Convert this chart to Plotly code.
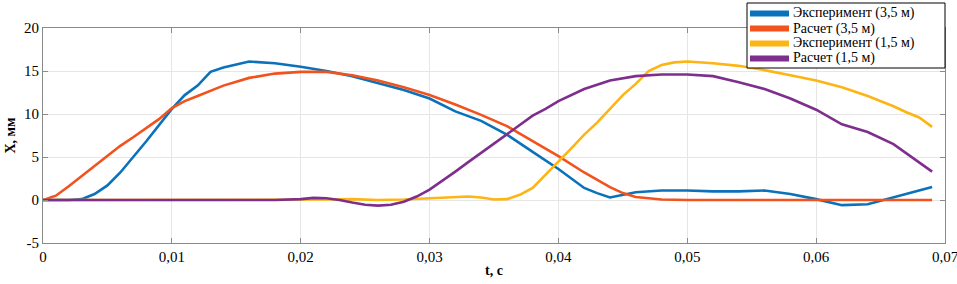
import plotly.graph_objects as go

# --- data ---
t_exp35 = [0, 0.002, 0.003, 0.004, 0.005, 0.006, 0.008, 0.010, 0.011, 0.012, 0.013, 0.014, 0.016, 0.018,
           0.020, 0.022, 0.024, 0.026, 0.028, 0.030, 0.032, 0.034, 0.036, 0.038, 0.040, 0.042, 0.043, 0.044,
           0.046, 0.048, 0.050, 0.052, 0.054, 0.056, 0.058, 0.060, 0.062, 0.064, 0.066, 0.068, 0.069]
x_exp35 = [0, 0, 0.1, 0.7, 1.7, 3.2, 6.8, 10.6, 12.2, 13.3, 14.9, 15.4, 16.1, 15.9,
           15.5, 15.0, 14.4, 13.6, 12.8, 11.8, 10.3, 9.2, 7.6, 5.6, 3.6, 1.4, 0.8, 0.3,
           0.9, 1.1, 1.1, 1.0, 1.0, 1.1, 0.7, 0.1, -0.6, -0.5, 0.3, 1.1, 1.5]

t_calc35 = [0, 0.001, 0.002, 0.003, 0.004, 0.005, 0.006, 0.007, 0.008, 0.009, 0.010, 0.011, 0.012, 0.013,
            0.014, 0.016, 0.018, 0.020, 0.022, 0.024, 0.026, 0.028, 0.030, 0.032, 0.034, 0.036, 0.038,
            0.040, 0.042, 0.044, 0.045, 0.046, 0.048, 0.050, 0.055, 0.060, 0.065, 0.069]
x_calc35 = [0, 0.5, 1.6, 2.8, 4.0, 5.1, 6.3, 7.3, 8.3, 9.4, 10.7, 11.5, 12.1, 12.7,
            13.3, 14.2, 14.7, 14.9, 14.9, 14.5, 13.9, 13.1, 12.2, 11.1, 9.9, 8.6, 6.9,
            5.1, 3.2, 1.5, 0.8, 0.35, 0.05, 0, 0, 0, 0, 0]

t_exp15 = [0, 0.010, 0.020, 0.022, 0.024, 0.026, 0.028, 0.030, 0.032, 0.033, 0.034, 0.035, 0.036, 0.037,
           0.038, 0.039, 0.040, 0.041, 0.042, 0.043, 0.044, 0.045, 0.046, 0.047, 0.048, 0.049, 0.050,
           0.052, 0.054, 0.056, 0.058, 0.060, 0.062, 0.064, 0.066, 0.067, 0.068, 0.069]
x_exp15 = [0, 0, 0, 0.05, 0.1, 0.0, 0.05, 0.2, 0.35, 0.4, 0.3, 0.05, 0.1, 0.6,
           1.4, 2.9, 4.5, 6.0, 7.6, 9.0, 10.6, 12.2, 13.5, 15.0, 15.7, 16.0, 16.1,
           15.9, 15.6, 15.1, 14.5, 13.9, 13.1, 12.1, 10.9, 10.2, 9.6, 8.5]

t_calc15 = [0, 0.010, 0.018, 0.020, 0.021, 0.022, 0.023, 0.024, 0.025, 0.026, 0.027, 0.028, 0.029, 0.030,
            0.031, 0.032, 0.033, 0.034, 0.035, 0.036, 0.037, 0.038, 0.039, 0.040, 0.042, 0.044, 0.046,
            0.048, 0.050, 0.052, 0.054, 0.056, 0.058, 0.060, 0.062, 0.064, 0.066, 0.067, 0.068, 0.069]
x_calc15 = [0, 0, 0, 0.1, 0.25, 0.2, 0.0, -0.3, -0.55, -0.65, -0.55, -0.2, 0.4, 1.2,
            2.2, 3.3, 4.4, 5.5, 6.6, 7.7, 8.8, 9.8, 10.6, 11.5, 12.9, 13.9, 14.4,
            14.6, 14.6, 14.4, 13.7, 12.9, 11.8, 10.5, 8.8, 7.9, 6.5, 5.4, 4.4, 3.3]

names = ["Эксперимент (3,5 м)", "Расчет (3,5 м)", "Эксперимент (1,5 м)", "Расчет (1,5 м)"]
x_tickvals = [0, 0.01, 0.02, 0.03, 0.04, 0.05, 0.06, 0.07]
x_ticktext = ["0", "0,01", "0,02", "0,03", "0,04", "0,05", "0,06", "0,07"]
y_tickvals = [-5, 0, 5, 10, 15, 20]
y_ticktext = ["-5", "0", "5", "10", "15", "20"]

colors = ["#0A72BA", "#F2521C", "#FDB515", "#7E2F8E"]
series = [(t_exp35, x_exp35), (t_calc35, x_calc35), (t_exp15, x_exp15), (t_calc15, x_calc15)]

font_family = "Liberation Serif"

W, H = 957, 284
L, R, T, B = 43, 12, 28, 41
PW, PH = W - L - R, H - T - B


def px_x(px):
    return (px - L) / PW


def px_y(py):
    return (H - B - py) / PH


fig = go.Figure()
for (tt, xx), name, c in zip(series, names, colors):
    fig.add_trace(go.Scatter(x=tt, y=xx, mode="lines", name=name,
                             showlegend=False, line=dict(color=c, width=2.6)))

# manual legend box (MATLAB-style, compact)
shapes = [dict(type="rect", xref="paper", yref="paper",
               x0=px_x(747), x1=px_x(945), y0=px_y(68), y1=px_y(3),
               line=dict(color="black", width=1), fillcolor="white", layer="above")]
annotations = []
row_y = [13.5, 28.5, 43.5, 58.5]
for name, c, ry in zip(names, colors, row_y):
    shapes.append(dict(type="line", xref="paper", yref="paper",
                       x0=px_x(750), x1=px_x(789), y0=px_y(ry), y1=px_y(ry),
                       line=dict(color=c, width=6), layer="above"))
    annotations.append(dict(xref="paper", yref="paper", x=px_x(791), y=px_y(ry),
                            xanchor="left", yanchor="middle", showarrow=False,
                            text=name, font=dict(family=font_family, size=14, color="black")))

axis_common = dict(showline=True, mirror="ticks", linecolor="#8a8a8a", linewidth=1,
                   ticks="inside", ticklen=5, tickcolor="#8a8a8a",
                   showgrid=True, gridcolor="#e6e6e6", gridwidth=1, zeroline=False,
                   automargin=False, ticklabeloverflow="allow",
                   tickfont=dict(family=font_family, size=15, color="black"))

fig.update_layout(
    width=W, height=H,
    margin=dict(l=L, r=R, t=T, b=B, autoexpand=False),
    paper_bgcolor="white", plot_bgcolor="white",
    font=dict(family=font_family, size=14, color="black"),
    showlegend=False, hovermode=False,
    shapes=shapes, annotations=annotations,
    xaxis=dict(range=[0, 0.07], tickvals=x_tickvals, ticktext=x_ticktext,
               title=dict(text="<b>t, с</b>", font=dict(family=font_family, size=14), standoff=1),
               **axis_common),
    yaxis=dict(range=[-5, 20], tickvals=y_tickvals, ticktext=y_ticktext,
               title=dict(text="<b>X, мм</b>", font=dict(family=font_family, size=14), standoff=5),
               **axis_common),
)

fig.write_html("out.html", config={"displayModeBar": False},
               post_script="document.body.style.margin='0';document.body.style.overflow='hidden';")
